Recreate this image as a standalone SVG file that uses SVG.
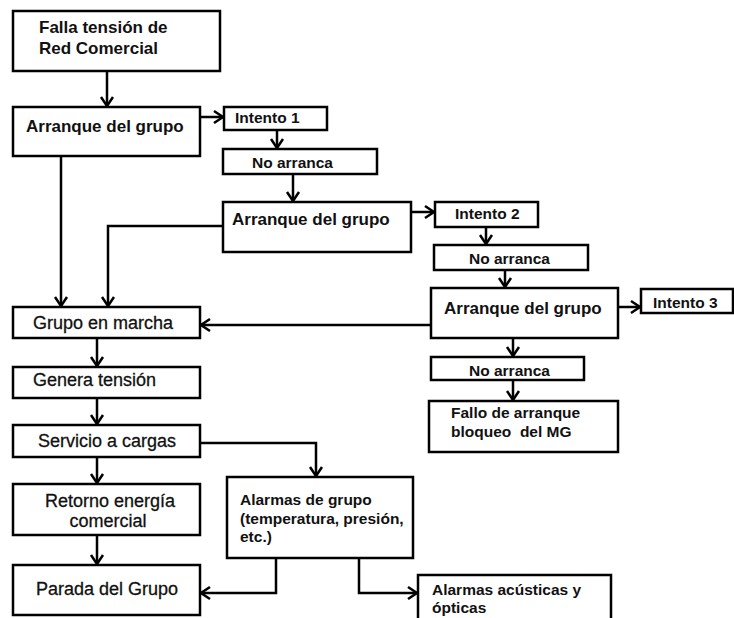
<svg xmlns="http://www.w3.org/2000/svg" width="734" height="618" viewBox="0 0 734 618">
  <defs>
    <style>
      .box { fill: #ffffff; stroke: #000000; stroke-width: 2.5; }
      .t { font-family: "Liberation Sans", Arial, sans-serif; fill: #111111; }
      .b17 { font-size: 17px; font-weight: bold; }
      .b15 { font-size: 15.5px; font-weight: bold; }
      .r18 { font-size: 18px; stroke: #111111; stroke-width: 0.3; }
      .mid { text-anchor: middle; }
      .link { fill: none; stroke: #000000; stroke-width: 2.5; marker-end: url(#chev); }
    </style>
    <!-- open chevron arrowhead -->
    <marker id="chev" markerUnits="userSpaceOnUse" markerWidth="14" markerHeight="16" viewBox="-11 -8 13 16" refX="0" refY="0" orient="auto">
      <path d="M-9,-6 L0,0 L-9,6" fill="none" stroke="#000000" stroke-width="2.5"/>
    </marker>
  </defs>

  <rect width="734" height="618" fill="#ffffff"/>

  <!-- connectors -->
  <g id="connectors">
    <path class="link" d="M107,71 V106"/>
    <path class="link" d="M200,117 H223"/>
    <path class="link" d="M277,130 V148"/>
    <path class="link" d="M293,174 V201"/>
    <path class="link" d="M411,212 H434"/>
    <path class="link" d="M486,227 V244"/>
    <path class="link" d="M505,270 V287"/>
    <path class="link" d="M618,307 H640"/>
    <path class="link" d="M513,338 V356"/>
    <path class="link" d="M513,380 V400"/>
    <path class="link" d="M61,156 V306"/>
    <path class="link" d="M223,226 H108 V306"/>
    <path class="link" d="M431,325 H201"/>
    <path class="link" d="M97,338 V366"/>
    <path class="link" d="M97,398 V424"/>
    <path class="link" d="M97,457 V483"/>
    <path class="link" d="M97,535 V564"/>
    <path class="link" d="M200,443 H316 V476"/>
    <path class="link" d="M276,558 V593 H201"/>
    <path class="link" d="M359,558 V593 H417"/>
  </g>

  <g id="falla-tension">
    <rect class="box" x="13" y="11" width="207" height="60"/>
    <text class="t b17" x="39" y="33">Falla tensión de</text>
    <text class="t b17" x="39" y="54">Red Comercial</text>
  </g>

  <g id="arranque-1">
    <rect class="box" x="13" y="107" width="187" height="49"/>
    <text class="t b17" x="26" y="132">Arranque del grupo</text>
  </g>

  <g id="intento-1">
    <rect class="box" x="224" y="107" width="103" height="23"/>
    <text class="t b15" x="235" y="123">Intento 1</text>
  </g>

  <g id="no-arranca-1">
    <rect class="box" x="223" y="149" width="154" height="25"/>
    <text class="t b15" x="252" y="168">No arranca</text>
  </g>

  <g id="arranque-2">
    <rect class="box" x="223" y="202" width="188" height="50"/>
    <text class="t b17" x="232" y="225">Arranque del grupo</text>
  </g>

  <g id="intento-2">
    <rect class="box" x="435" y="202" width="103" height="25"/>
    <text class="t b15" x="455" y="219">Intento 2</text>
  </g>

  <g id="no-arranca-2">
    <rect class="box" x="434" y="245" width="154" height="25"/>
    <text class="t b15" x="469" y="264">No arranca</text>
  </g>

  <g id="arranque-3">
    <rect class="box" x="431" y="288" width="187" height="50"/>
    <text class="t b17" x="444" y="314">Arranque del grupo</text>
  </g>

  <g id="intento-3">
    <rect class="box" x="641" y="289" width="92" height="24"/>
    <text class="t b15" x="653" y="308">Intento 3</text>
  </g>

  <g id="no-arranca-3">
    <rect class="box" x="431" y="357" width="153" height="23"/>
    <text class="t b15" x="469" y="376">No arranca</text>
  </g>

  <g id="fallo-arranque">
    <rect class="box" x="429" y="401" width="189" height="51"/>
    <text class="t b15" x="451" y="418">Fallo de arranque</text>
    <text class="t b15" x="451" y="437">bloqueo&#160; del MG</text>
  </g>

  <g id="grupo-marcha">
    <rect class="box" x="13" y="307" width="187" height="31"/>
    <text class="t r18" x="33" y="329">Grupo en marcha</text>
  </g>

  <g id="genera-tension">
    <rect class="box" x="13" y="367" width="187" height="31"/>
    <text class="t r18" x="33" y="386">Genera tensión</text>
  </g>

  <g id="servicio-cargas">
    <rect class="box" x="13" y="425" width="187" height="32"/>
    <text class="t r18" x="38" y="447">Servicio a cargas</text>
  </g>

  <g id="retorno-energia">
    <rect class="box" x="13" y="484" width="187" height="51"/>
    <text class="t r18 mid" x="110" y="507">Retorno energía</text>
    <text class="t r18 mid" x="108" y="527">comercial</text>
  </g>

  <g id="parada-grupo">
    <rect class="box" x="13" y="565" width="187" height="50"/>
    <text class="t r18" x="36" y="595">Parada del Grupo</text>
  </g>

  <g id="alarmas-grupo">
    <rect class="box" x="227" y="477" width="186" height="81"/>
    <text class="t b15" x="240" y="505">Alarmas de grupo</text>
    <text class="t b15" x="240" y="524">(temperatura, presión,</text>
    <text class="t b15" x="240" y="542">etc.)</text>
  </g>

  <g id="alarmas-acusticas">
    <rect class="box" x="418" y="575" width="193" height="60"/>
    <text class="t b15" x="432" y="595">Alarmas acústicas y</text>
    <text class="t b15" x="432" y="613">ópticas</text>
  </g>
</svg>
